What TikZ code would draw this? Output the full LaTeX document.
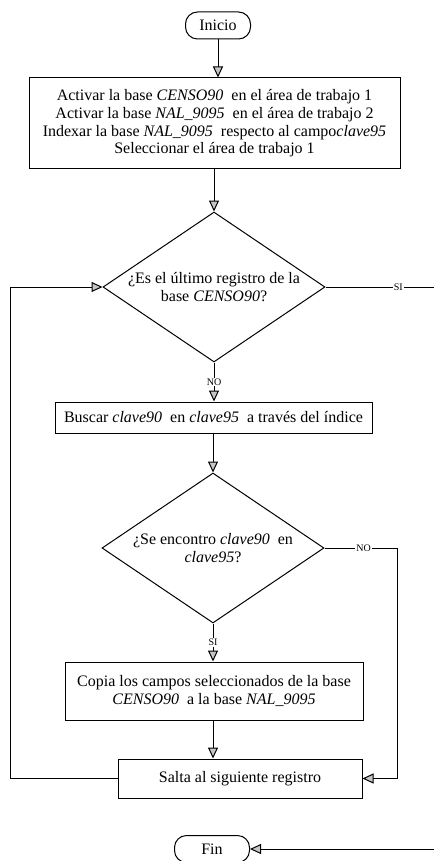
\documentclass[tikz,border=0pt]{standalone}
\usepackage{fontspec}
\setmainfont{Liberation Serif}
\usetikzlibrary{shapes.geometric,arrows.meta}

\tikzset{texto/.style={font=\fontsize{16}{17.6}\selectfont}}
\tikzset{proceso/.style={draw,line width=1pt,align=center,inner sep=2pt,texto}}
\tikzset{terminal/.style={draw,line width=1pt,rounded corners=12pt,minimum width=65pt,minimum height=27pt,inner sep=0pt,texto}}
\tikzset{decision/.style={diamond,draw,line width=1pt,align=center,inner sep=0pt,aspect=1.48,minimum width=222pt,minimum height=150pt,texto}}
\tikzset{flujo/.style={line width=1pt,-{Triangle[length=11pt,width=10pt,fill=gray!45]}}}
\tikzset{etiqueta/.style={fill=white,inner sep=1pt,font=\fontsize{10}{11}\selectfont}}

\begin{document}
\begin{tikzpicture}[x=1pt,y=-1pt]
        \useasboundingbox (0,0) rectangle (434,861);
        % draw the blocks
        \node[terminal] (inicio) at (218,25.5) {Inicio};
        \node[proceso,minimum width=371pt,minimum height=91pt] (activa) at (214.5,123.5)
          {Activar la base \textit{CENSO90}\ \ en el área de trabajo 1\\
           Activar la base \textit{NAL\_9095}\ \ en el área de trabajo 2\\
           Indexar la base \textit{NAL\_9095}\ \ respecto al campo\textit{clave95}\\
           Seleccionar el área de trabajo 1};
        \node[decision] (ultimo) at (214,287) {¿Es el último registro de la\\ base \textit{CENSO90}?};
        \node[proceso,minimum width=317pt,minimum height=31pt] (buscar) at (213.5,417.5)
          {Buscar \textit{clave90}\ \ en \textit{clave95}\ \ a través del índice};
        \node[decision] (encontro) at (213,548) {¿Se encontro \textit{clave90}\ \ en\\ \textit{clave95}?};
        \node[proceso,minimum width=298pt,minimum height=58pt] (copia) at (214,691)
          {Copia los campos seleccionados de la base\\ \textit{CENSO90}\ \ a la base \textit{NAL\_9095}};
        \node[proceso,minimum width=244pt,minimum height=39pt] (salta) at (240,778.5) {Salta al siguiente registro};
        \node[terminal,minimum width=75pt] (fin) at (212,849) {Fin};

        % free ends and corners
        \coordinate (sider) at (434,287);
        \coordinate (finder) at (434,849);
        \coordinate (noder) at (397,548);
        \coordinate (lazo) at (10,287);

        % draw the connectors
        \draw[flujo] (inicio.south) -- (inicio.south |- activa.north);
        \draw[flujo] (activa.south -| ultimo.north) -- (ultimo.north);
        \draw[flujo] (ultimo.south) -- node[etiqueta]{NO} (buscar.north -| ultimo.south);
        \draw[line width=1pt] (ultimo.east) -- node[etiqueta,pos=0.67]{SI} (sider);
        \draw[flujo] (buscar.south -| encontro.north) -- (encontro.north);
        \draw[flujo] (encontro.south) -- node[etiqueta]{SI} (copia.north -| encontro.south);
        \draw[flujo] (copia.south -| encontro.south) -- (salta.north -| encontro.south);
        \draw[flujo] (encontro.east) -- node[etiqueta,pos=0.54]{NO} (noder) |- (salta.east);
        \draw[flujo] (salta.west) -| (lazo) -- (ultimo.west);
        \draw[flujo] (finder) -- (fin.east);
    \end{tikzpicture}
\end{document}
